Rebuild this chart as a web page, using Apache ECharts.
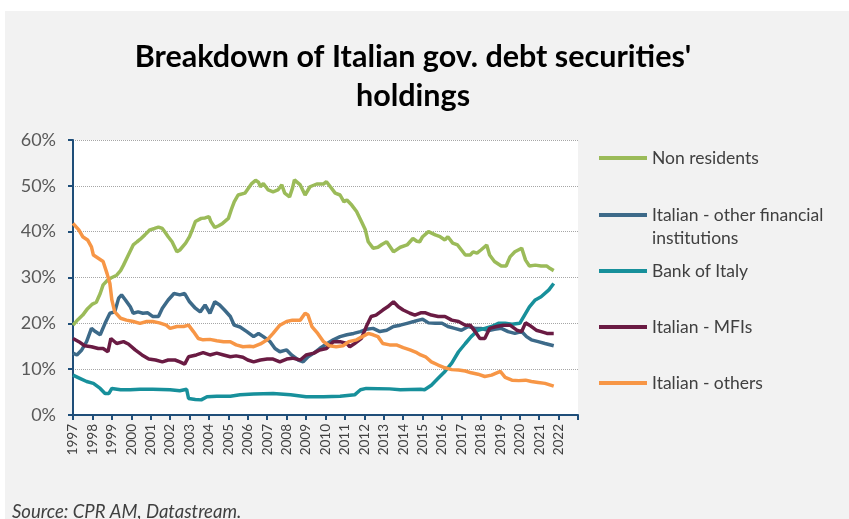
<!DOCTYPE html>
<html>
<head>
<meta charset="utf-8">
<script src="https://cdn.jsdelivr.net/npm/echarts@6/dist/echarts.min.js"></script>
<style>
  html, body { margin: 0; padding: 0; background: #ffffff; }
  #bg { position: absolute; left: 5px; top: 11px; width: 844px; height: 508px; background: #f2f2f2; }
  #chart { position: absolute; left: 0; top: 0; width: 849px; height: 519px; }
</style>
</head>
<body>
<div id="bg"></div>
<div id="chart"></div>
<script>
// ---- Data (year, % share) ----
const seriesNames = ['Non residents', 'Italian - other financial institutions', 'Bank of Italy', 'Italian - MFIs', 'Italian - others'];
const yTicks = [0, 10, 20, 30, 40, 50, 60];
const yearStart = 1997, yearEnd = 2023;

const nonResidents = [
 [1997.0,19.6],[1997.25,20.8],[1997.5,21.8],[1997.75,23.2],[1998.0,24.2],[1998.2,24.6],[1998.4,26.5],[1998.55,28.4],
 [1998.75,29.3],[1998.95,29.9],[1999.25,30.5],[1999.45,31.5],[1999.6,32.7],[1999.85,34.9],[2000.1,37.1],[2000.3,37.8],
 [2000.45,38.3],[2000.7,39.3],[2000.96,40.4],[2001.2,40.7],[2001.4,41.0],[2001.6,40.7],[2001.75,39.8],[2001.9,38.9],
 [2002.1,37.8],[2002.25,36.5],[2002.35,35.6],[2002.5,36.0],[2002.8,37.5],[2003.0,38.9],[2003.15,40.5],[2003.3,42.2],
 [2003.6,42.9],[2003.8,43.0],[2004.0,43.3],[2004.1,42.2],[2004.3,40.9],[2004.5,41.3],[2004.7,41.8],[2005.0,42.9],
 [2005.15,44.8],[2005.3,46.5],[2005.5,48.0],[2005.85,48.4],[2005.95,48.7],[2006.2,50.5],[2006.4,51.2],[2006.55,50.8],
 [2006.65,49.8],[2006.8,50.5],[2007.05,49.1],[2007.3,48.7],[2007.55,49.1],[2007.75,50.2],[2007.9,48.4],[2008.15,47.6],
 [2008.3,49.5],[2008.4,51.3],[2008.7,50.2],[2008.95,48.0],[2009.2,49.8],[2009.55,50.4],[2009.9,50.4],[2010.05,50.9],
 [2010.25,49.8],[2010.5,48.4],[2010.75,48.0],[2010.95,46.5],[2011.1,46.9],[2011.35,45.8],[2011.6,44.4],[2011.85,42.2],
 [2012.05,40.4],[2012.2,37.8],[2012.45,36.4],[2012.7,36.6],[2012.9,37.2],[2013.15,37.8],[2013.5,35.6],[2013.85,36.6],
 [2014.2,37.1],[2014.5,38.5],[2014.7,37.9],[2014.85,37.8],[2015.0,38.9],[2015.3,40.0],[2015.65,39.3],[2015.9,38.9],
 [2016.15,38.2],[2016.3,38.9],[2016.55,37.5],[2016.8,37.1],[2017.0,36.0],[2017.2,34.9],[2017.45,34.9],[2017.6,35.6],
 [2017.8,35.3],[2018.0,36.0],[2018.3,37.1],[2018.45,34.9],[2018.7,33.5],[2019.05,32.5],[2019.3,32.5],[2019.5,34.5],
 [2019.75,35.6],[2020.1,36.4],[2020.3,33.8],[2020.5,32.5],[2020.8,32.7],[2021.1,32.5],[2021.4,32.5],[2021.55,32.0],
 [2021.75,31.5]
];

const otherFinancial = [
 [1997.0,13.5],[1997.2,13.1],[1997.45,14.2],[1997.7,16.0],[1997.95,18.9],[1998.15,18.2],[1998.4,17.5],[1998.65,20.0],
 [1998.9,22.2],[1999.15,22.5],[1999.35,25.5],[1999.5,26.2],[1999.7,25.1],[1999.95,23.6],[2000.1,22.2],[2000.35,22.5],
 [2000.6,22.2],[2000.85,22.3],[2001.1,21.5],[2001.4,21.5],[2001.6,23.3],[2001.9,25.1],[2002.2,26.5],[2002.5,26.2],
 [2002.75,26.5],[2003.0,24.7],[2003.3,23.3],[2003.55,22.5],[2003.8,24.0],[2004.05,22.2],[2004.3,24.7],[2004.55,24.0],
 [2004.8,22.9],[2005.1,21.5],[2005.3,19.6],[2005.6,19.2],[2005.95,18.2],[2006.3,17.1],[2006.55,17.8],[2006.8,17.1],
 [2007.15,16.0],[2007.4,14.5],[2007.65,13.8],[2008.0,14.2],[2008.25,13.1],[2008.6,12.0],[2008.85,11.6],[2009.1,12.7],
 [2009.4,13.5],[2009.7,14.5],[2010.05,15.5],[2010.4,16.4],[2010.75,17.1],[2011.1,17.5],[2011.45,17.8],[2011.8,18.2],
 [2012.1,18.7],[2012.45,18.9],[2012.8,18.2],[2013.15,18.5],[2013.5,19.3],[2013.85,19.6],[2014.2,20.0],[2014.55,20.4],
 [2014.8,20.7],[2015.0,20.9],[2015.3,20.1],[2015.65,20.0],[2016.0,20.0],[2016.3,19.3],[2016.65,18.9],[2017.0,18.5],
 [2017.35,19.3],[2017.7,18.9],[2018.0,18.9],[2018.4,18.4],[2018.7,18.7],[2019.05,18.9],[2019.4,18.2],[2019.75,17.8],
 [2020.1,18.2],[2020.35,17.1],[2020.6,16.4],[2020.95,16.0],[2021.3,15.6],[2021.75,15.1]
];

const bankOfItaly = [
 [1997.0,8.7],[1997.35,8.0],[1997.7,7.3],[1998.05,6.9],[1998.4,5.8],[1998.65,4.7],[1998.85,4.7],[1999.0,5.8],
 [1999.45,5.5],[1999.95,5.5],[2000.45,5.6],[2001.1,5.6],[2002.0,5.5],[2002.5,5.3],[2002.85,5.6],[2002.95,3.6],
 [2003.3,3.4],[2003.6,3.3],[2003.9,4.0],[2004.4,4.1],[2005.1,4.1],[2005.6,4.4],[2006.3,4.6],[2007.3,4.7],
 [2008.2,4.4],[2009.0,4.0],[2009.9,4.0],[2010.75,4.1],[2011.5,4.4],[2011.8,5.5],[2012.1,5.8],[2013.3,5.7],
 [2013.85,5.5],[2014.9,5.6],[2015.1,5.5],[2015.45,6.5],[2015.8,8.0],[2016.15,9.5],[2016.5,11.3],[2016.85,13.8],
 [2017.2,15.6],[2017.5,17.1],[2017.85,18.5],[2018.2,18.9],[2018.55,19.3],[2018.9,20.0],[2019.25,20.0],[2019.6,19.8],
 [2020.0,20.0],[2020.25,21.8],[2020.5,23.6],[2020.8,25.1],[2021.1,25.8],[2021.5,27.3],[2021.75,28.7]
];

const italianMFIs = [
 [1997.0,16.7],[1997.3,16.0],[1997.6,15.1],[1997.95,14.9],[1998.3,14.5],[1998.55,14.5],[1998.8,13.8],[1998.95,16.7],
 [1999.25,15.6],[1999.6,16.0],[1999.85,15.5],[2000.2,14.2],[2000.55,13.1],[2000.9,12.2],[2001.25,12.0],[2001.6,11.6],
 [2001.9,12.0],[2002.25,12.0],[2002.5,11.6],[2002.75,11.1],[2002.95,12.7],[2003.35,13.1],[2003.7,13.6],[2004.05,13.1],
 [2004.4,13.5],[2004.75,13.1],[2005.1,12.7],[2005.4,12.9],[2005.75,12.6],[2006.0,12.0],[2006.3,11.6],[2006.65,12.0],
 [2007.0,12.2],[2007.3,12.2],[2007.65,11.6],[2008.0,12.2],[2008.3,12.4],[2008.7,12.0],[2009.0,13.1],[2009.4,13.5],
 [2009.7,14.2],[2010.05,14.5],[2010.4,16.0],[2010.75,16.0],[2011.1,15.6],[2011.25,14.9],[2011.5,15.6],[2011.85,16.7],
 [2012.1,19.3],[2012.35,21.5],[2012.6,21.8],[2012.95,22.9],[2013.2,23.6],[2013.5,24.7],[2013.75,23.6],[2014.0,22.9],
 [2014.35,22.2],[2014.6,21.8],[2014.9,22.3],[2015.15,22.3],[2015.45,21.8],[2015.8,21.5],[2016.15,21.5],[2016.5,20.7],
 [2016.85,20.4],[2017.2,19.6],[2017.45,19.6],[2017.7,18.2],[2017.95,16.7],[2018.2,16.7],[2018.45,18.9],[2018.8,19.3],
 [2019.15,19.6],[2019.5,19.6],[2019.85,18.5],[2020.1,18.2],[2020.3,20.1],[2020.5,19.6],[2020.85,18.5],[2021.1,18.2],
 [2021.4,17.8],[2021.75,17.8]
];

const italianOthers = [
 [1997.0,41.8],[1997.3,40.4],[1997.5,38.9],[1997.75,38.2],[1997.95,36.7],[1998.05,34.9],[1998.3,34.2],[1998.55,33.5],
 [1998.75,30.9],[1998.9,28.7],[1999.0,25.1],[1999.15,22.5],[1999.45,21.1],[1999.75,20.7],[2000.1,20.4],[2000.45,20.0],
 [2000.8,20.4],[2001.1,20.4],[2001.45,20.1],[2001.8,19.6],[2002.0,18.9],[2002.35,19.3],[2002.7,19.3],[2002.95,19.6],
 [2003.2,18.2],[2003.45,16.7],[2003.7,16.4],[2004.05,16.5],[2004.4,16.2],[2004.75,16.0],[2005.1,16.0],[2005.4,15.3],
 [2005.75,14.9],[2006.1,15.0],[2006.3,14.9],[2006.65,15.5],[2007.0,16.4],[2007.3,17.8],[2007.65,19.6],[2008.0,20.4],
 [2008.3,20.7],[2008.7,20.7],[2008.95,22.2],[2009.1,21.8],[2009.3,19.3],[2009.6,17.8],[2009.9,16.0],[2010.2,15.1],
 [2010.55,14.9],[2010.9,15.1],[2011.2,16.0],[2011.6,16.4],[2011.9,17.1],[2012.2,17.8],[2012.45,17.5],[2012.7,17.1],
 [2012.95,15.6],[2013.3,15.3],[2013.65,15.3],[2014.0,14.7],[2014.35,14.2],[2014.7,13.6],[2014.9,13.1],[2015.15,12.7],
 [2015.45,11.6],[2015.8,10.9],[2016.15,10.3],[2016.5,9.9],[2016.85,9.8],[2017.2,9.6],[2017.5,9.2],[2017.85,8.9],
 [2018.2,8.4],[2018.55,8.7],[2019.0,9.5],[2019.25,8.2],[2019.6,7.6],[2019.95,7.5],[2020.3,7.6],[2020.6,7.3],
 [2020.95,7.1],[2021.3,6.9],[2021.75,6.3]
];

// ---- Styles ----
const colors = ['#9BBB59', '#3D6A89', '#17909B', '#6A1B43', '#F79646'];
const dataList = [nonResidents, otherFinancial, bankOfItaly, italianMFIs, italianOthers];
const legendCenters = [158, 215, 271, 327, 383];
const FONT = 'Lato';

const legends = seriesNames.map((name, i) => {
  const multi = i === 1;
  const lh = 23;
  const boxH = multi ? lh * 3 : lh;
  return {
    data: [name],
    orient: 'vertical',
    left: 599,
    top: legendCenters[i] - boxH / 2,
    padding: 0,
    icon: 'rect',
    itemWidth: 48,
    itemHeight: 4,
    itemGap: 0,
    selectedMode: false,
    formatter: multi ? () => '\nItalian - other financial\ninstitutions' : '{name}',
    textStyle: { fontFamily: FONT, fontSize: 17.5, color: '#404040', lineHeight: lh }
  };
});

const chart = echarts.init(document.getElementById('chart'), null, { renderer: 'canvas' });
chart.setOption({
  animation: false,
  title: {
    text: "Breakdown of Italian gov. debt securities'\nholdings",
    left: 413,
    top: 38,
    padding: 0,
    textAlign: 'center',
    textStyle: { fontFamily: FONT, fontSize: 30.5, fontWeight: 'bold', color: '#000000', lineHeight: 39 }
  },
  legend: legends,
  grid: {
    left: 73, right: 271, top: 140, bottom: 104,
    show: true, backgroundColor: '#ffffff', borderWidth: 0
  },
  xAxis: {
    type: 'value',
    min: yearStart, max: yearEnd, interval: 1,
    splitLine: { show: false },
    axisLine: { lineStyle: { color: '#1F4E79', width: 2 } },
    axisTick: { show: true, length: 5, lineStyle: { color: '#1F4E79', width: 2 } },
    axisLabel: {
      rotate: 90, margin: 9, fontFamily: FONT, fontSize: 13.5, color: '#404040',
      showMaxLabel: true,
      formatter: v => (v === yearEnd ? '' : String(v))
    }
  },
  yAxis: {
    type: 'value',
    min: yTicks[0], max: yTicks[yTicks.length - 1], interval: 10,
    axisLine: { show: true, lineStyle: { color: '#1F4E79', width: 2 } },
    axisTick: { show: true, length: 5, lineStyle: { color: '#1F4E79', width: 2 } },
    axisLabel: { margin: 17, fontFamily: FONT, fontSize: 18, color: '#595959', formatter: '{value}%' },
    splitLine: { show: true, lineStyle: { color: '#A6A6A6', type: 'dotted', width: 1 } }
  },
  series: seriesNames.map((name, i) => ({
    name,
    type: 'line',
    data: dataList[i],
    symbol: 'none',
    smooth: false,
    color: colors[i],
    lineStyle: { color: colors[i], width: 3.5 },
    z: 2
  })),
  graphic: [{
    type: 'text',
    left: 12,
    top: 503,
    style: { text: 'Source: CPR AM, Datastream.', font: 'italic 18.5px Lato', fill: '#404040' }
  }]
});
</script>
</body>
</html>
